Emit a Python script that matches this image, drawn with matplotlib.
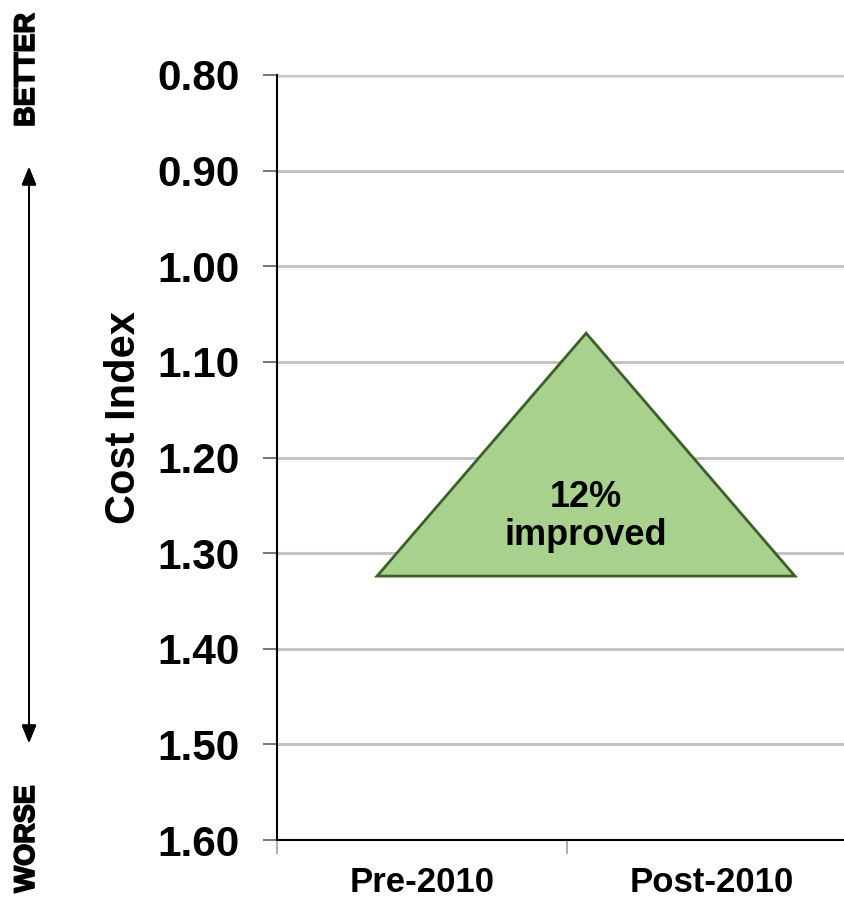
import matplotlib.pyplot as plt
import matplotlib.patheffects as pe
from matplotlib.patches import Polygon
from matplotlib.transforms import blended_transform_factory

# categories and axis scale
categories = ['Pre-2010', 'Post-2010']
y_ticks = [0.80, 0.90, 1.00, 1.10, 1.20, 1.30, 1.40, 1.50, 1.60]

# improvement triangle (category position, cost index)
tri_x = [-0.155, 0.566, 1.286]
tri_y = [1.324, 1.070, 1.324]
tri_label = '12%\nimproved'
tri_label_pos = (0.566, 1.262)

plt.rcParams['font.family'] = ['Liberation Sans', 'DejaVu Sans']
plt.rcParams['font.weight'] = 'bold'

fig = plt.figure(figsize=(8.44, 8.99), dpi=100)
ax = fig.add_axes([277 / 844, 59 / 899, 580 / 844, 765 / 899])

ax.set_xlim(-0.5, 1.5)
ax.set_ylim(1.60, 0.80)
ax.set_yticks(y_ticks)
ax.set_yticklabels(['%.2f' % v for v in y_ticks], fontsize=30.5, fontweight='bold')
ax.tick_params(axis='y', length=10, width=1.2, color='#606060', pad=17)

# boundary ticks between categories; names drawn below the axis
ax.set_xticks([-0.5, 0.5, 1.5])
ax.set_xticklabels([])
ax.tick_params(axis='x', length=10, color='#a0a0a0', width=1.2)
trans = blended_transform_factory(ax.transData, fig.transFigure)
for i, name in enumerate(categories):
    ax.text(i, 1 - 892 / 899, name, transform=trans, ha='center', va='baseline',
            fontsize=25, fontweight='bold', clip_on=False)

ax.grid(axis='y', color='#c4c4c4', linewidth=2.2)
ax.set_axisbelow(True)
for side in ['top', 'right']:
    ax.spines[side].set_visible(False)
ax.spines['left'].set_linewidth(1.5)
ax.spines['bottom'].set_linewidth(1.5)
ax.axhline(0.80, color='#8a8a8a', linewidth=2.5, zorder=0.5)

ax.add_patch(Polygon(list(zip(tri_x, tri_y)), closed=True, facecolor='#a9d18e',
                     edgecolor='#3b5f27', linewidth=2, zorder=3))
ax.text(tri_label_pos[0], tri_label_pos[1], tri_label, ha='center', va='center',
        fontsize=26, fontweight='bold', linespacing=1.1, zorder=4)

fig.text(124 / 844, 1 - 418 / 899, 'Cost Index', rotation=90, ha='center', va='center',
         fontsize=30, fontweight='bold')

# better / worse direction marker
heavy = [pe.withStroke(linewidth=1.2, foreground='black')]
fig.text(27 / 844, 1 - 70 / 899, 'BETTER', rotation=90, ha='center', va='center',
         fontsize=20.5, fontweight='bold', path_effects=heavy)
fig.text(27 / 844, 1 - 839 / 899, 'WORSE', rotation=90, ha='center', va='center',
         fontsize=20.5, fontweight='bold', path_effects=heavy)
fig.add_artist(plt.annotate('', xy=(29 / 844, 1 - 167 / 899), xytext=(29 / 844, 1 - 743 / 899),
                            xycoords='figure fraction', textcoords='figure fraction',
                            arrowprops=dict(arrowstyle='<|-|>,head_length=1.1,head_width=0.45',
                                            color='black', linewidth=1.3,
                                            shrinkA=0, shrinkB=0)))

fig.savefig('out.png', dpi=100)
